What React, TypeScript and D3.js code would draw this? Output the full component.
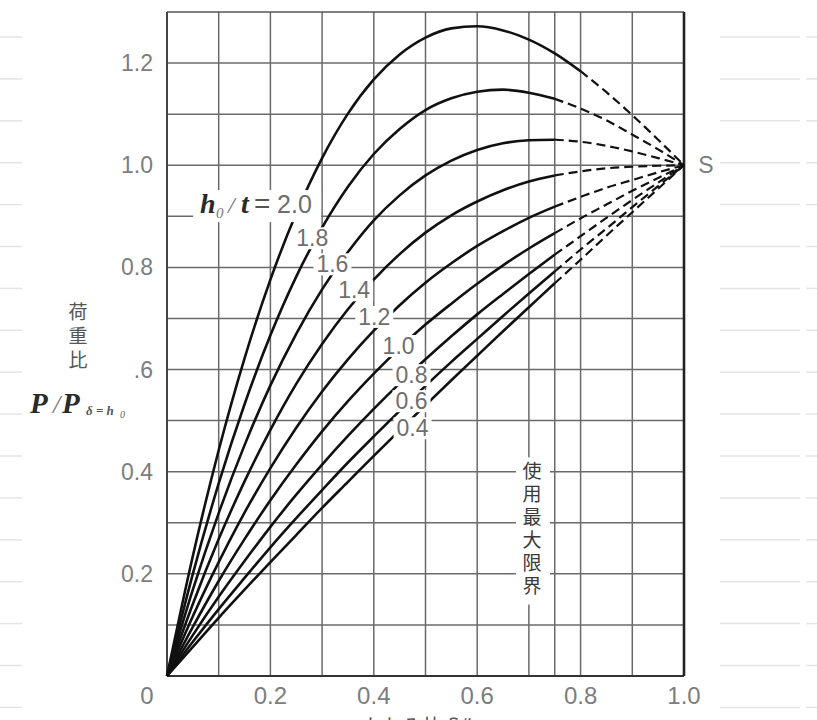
import React from 'react';
import * as d3 from 'd3';

const W = 817;
const H = 720;

// deflection ratio δ/h0 (x) and load ratio P/P(δ=h0) (y) for each h0/t
const deflectionRatio = [0, 0.05, 0.1, 0.15, 0.2, 0.25, 0.3, 0.35, 0.4, 0.45, 0.5, 0.55, 0.6, 0.65, 0.7, 0.75, 0.8, 0.85, 0.9, 0.95, 1.0];
const seriesNames = ['2.0', '1.8', '1.6', '1.4', '1.2', '1.0', '0.8', '0.6', '0.4'];
const load_2_0 = [0, 0.235, 0.442, 0.622, 0.776, 0.906, 1.014, 1.101, 1.168, 1.217, 1.25, 1.268, 1.272, 1.264, 1.246, 1.219, 1.184, 1.143, 1.098, 1.05, 1.0];
const load_1_8 = [0, 0.2, 0.377, 0.532, 0.667, 0.782, 0.878, 0.958, 1.022, 1.071, 1.108, 1.131, 1.144, 1.148, 1.142, 1.13, 1.111, 1.088, 1.06, 1.031, 1.0];
const load_1_6 = [0, 0.169, 0.319, 0.452, 0.569, 0.67, 0.757, 0.83, 0.892, 0.941, 0.98, 1.009, 1.03, 1.043, 1.049, 1.05, 1.046, 1.038, 1.027, 1.014, 1.0];
const load_1_4 = [0, 0.141, 0.268, 0.381, 0.482, 0.572, 0.65, 0.718, 0.776, 0.826, 0.868, 0.902, 0.929, 0.951, 0.968, 0.98, 0.988, 0.994, 0.997, 0.999, 1.0];
const load_1_2 = [0, 0.117, 0.223, 0.32, 0.407, 0.486, 0.557, 0.62, 0.676, 0.726, 0.77, 0.808, 0.842, 0.871, 0.897, 0.919, 0.938, 0.956, 0.971, 0.986, 1.0];
const load_1_0 = [0, 0.096, 0.186, 0.268, 0.344, 0.414, 0.479, 0.538, 0.592, 0.642, 0.688, 0.729, 0.768, 0.804, 0.837, 0.867, 0.896, 0.923, 0.95, 0.975, 1.0];
const load_0_8 = [0, 0.08, 0.155, 0.225, 0.292, 0.355, 0.414, 0.47, 0.523, 0.573, 0.62, 0.665, 0.708, 0.748, 0.787, 0.825, 0.861, 0.897, 0.932, 0.966, 1.0];
const load_0_6 = [0, 0.067, 0.131, 0.192, 0.252, 0.309, 0.364, 0.418, 0.469, 0.519, 0.568, 0.615, 0.66, 0.705, 0.749, 0.792, 0.835, 0.876, 0.918, 0.959, 1.0];
const load_0_4 = [0, 0.057, 0.114, 0.169, 0.223, 0.276, 0.329, 0.38, 0.431, 0.481, 0.53, 0.579, 0.627, 0.675, 0.722, 0.769, 0.815, 0.862, 0.908, 0.954, 1.0];
const seriesValues = [load_2_0, load_1_8, load_1_6, load_1_4, load_1_2, load_1_0, load_0_8, load_0_6, load_0_4];
// beyond this deflection the curves are dashed
const dashFrom = [0.8, 0.75, 0.75, 0.75, 0.75, 0.75, 0.75, 0.75, 0.75];

// label anchor points (data coordinates, centre of label)
const labelX = [0.064, 0.281, 0.32, 0.362, 0.401, 0.448, 0.473, 0.473, 0.475];
const labelY = [0.922, 0.857, 0.806, 0.755, 0.703, 0.646, 0.589, 0.538, 0.485];

const yTicks = [0.2, 0.4, 0.6, 0.8, 1.0, 1.2];
const yTickLabels = ['0.2', '0.4', '.6', '0.8', '1.0', '1.2'];
const xTicks = [0.2, 0.4, 0.6, 0.8, 1.0];
const xTickLabels = ['0.2', '0.4', '0.6', '0.8', '1.0'];
const hGrid = [0.1, 0.2, 0.3, 0.4, 0.5, 0.6, 0.7, 0.8, 0.9, 1.0, 1.1, 1.2];
const vGrid = [0.1, 0.2, 0.3, 0.4, 0.5, 0.6, 0.7, 0.75, 0.8, 0.9];
const limitX = 0.7;
const limitText = '使用最大限界';
const yTitle = '荷重比';

const SANS = '"Liberation Sans", Arial, Helvetica, sans-serif';
const SERIF = '"Liberation Serif", "DejaVu Serif", "Times New Roman", serif';
const CJK = '"Noto Sans CJK JP", "Noto Sans CJK SC", sans-serif';

export default function App() {
  const x = d3.scaleLinear().domain([0, 1]).range([167, 684]);
  const y = d3.scaleLinear().domain([0, 1.3]).range([676, 12]);

  const line = d3
    .line<[number, number]>()
    .x((d) => x(d[0]))
    .y((d) => y(d[1]))
    .curve(d3.curveMonotoneX);

  const sheetYs = d3.range(17).map((i) => 37 + i * 41.9);

  const curves = seriesValues.map((vals, i) => {
    const pts: [number, number][] = deflectionRatio.map((dx, j) => [dx, vals[j]]);
    const solid = pts.filter((p) => p[0] <= dashFrom[i] + 1e-9);
    const dashed = pts.filter((p) => p[0] >= dashFrom[i] - 1e-9);
    return { solid: line(solid) || '', dashed: line(dashed) || '' };
  });

  const gridColor = '#6a6a6a';
  const textGray = '#6e6e6e';

  return (
    <svg
      width={W}
      height={H}
      viewBox={`0 0 ${W} ${H}`}
      style={{ position: 'absolute', left: 0, top: 0, background: '#fff' }}
    >
      <rect x={0} y={0} width={W} height={H} fill="#fff" />
      {/* faint spreadsheet background */}
      {sheetYs.map((sy, i) => (
        <g key={'sh' + i} stroke="#e4e4e4" strokeWidth={1.5}>
          <line x1={0} x2={22} y1={sy} y2={sy} />
          <line x1={720} x2={800} y1={sy} y2={sy} />
          <line x1={806} x2={817} y1={sy} y2={sy} />
        </g>
      ))}

      {/* grid */}
      {hGrid.map((v) => (
        <line key={'h' + v} x1={x(0)} x2={x(1)} y1={y(v)} y2={y(v)} stroke={gridColor} strokeWidth={1.5} />
      ))}
      {vGrid.map((v) => (
        <line key={'v' + v} x1={x(v)} x2={x(v)} y1={y(0)} y2={y(1.3)} stroke={gridColor} strokeWidth={1.5} />
      ))}
      {/* frame */}
      <line x1={x(0)} x2={x(1)} y1={y(1.3)} y2={y(1.3)} stroke="#555" strokeWidth={1.6} />
      <line x1={x(0)} x2={x(1)} y1={y(0)} y2={y(0)} stroke="#333" strokeWidth={2} />
      <line x1={x(0)} x2={x(0)} y1={y(0)} y2={y(1.3)} stroke="#444" strokeWidth={2} />
      <line x1={x(1)} x2={x(1)} y1={y(0)} y2={y(1.3)} stroke="#222" strokeWidth={2.6} />

      {/* curves */}
      {curves.map((c, i) => (
        <g key={'c' + i} fill="none" stroke="#111" strokeWidth={2.6} strokeLinecap="butt">
          <path d={c.solid} />
          <path d={c.dashed} strokeDasharray="9 5" strokeWidth={2.2} />
        </g>
      ))}

      {/* curve labels */}
      {seriesNames.map((name, i) => {
        const cx = x(labelX[i]);
        const cy = y(labelY[i]);
        if (i === 0) {
          return (
            <g key={'l' + i}>
              <rect x={cx - 7} y={cy - 15} width={128} height={32} fill="#fff" />
              <text x={cx} y={cy + 8} fontFamily={SERIF} fontWeight="bold" fontStyle="italic" fontSize={28} fill="#2a2a2a">h</text>
              <text x={cx + 16} y={cy + 13} fontFamily={SERIF} fontStyle="italic" fontSize={15} fill="#777">0</text>
              <text x={cx + 28} y={cy + 8} fontFamily={SERIF} fontStyle="italic" fontSize={24} fill="#777">/</text>
              <text x={cx + 41} y={cy + 8} fontFamily={SERIF} fontWeight="bold" fontStyle="italic" fontSize={28} fill="#2a2a2a">t</text>
              <text x={cx + 54} y={cy + 8} fontFamily={SANS} fontSize={28} fill="#555">=</text>
              <text x={cx + 77} y={cy + 8} fontFamily={SANS} fontSize={25} fill={textGray}>{name}</text>
            </g>
          );
        }
        const w = 38;
        return (
          <g key={'l' + i}>
            <rect x={cx - w / 2} y={cy - 11} width={w} height={22} fill="#fff" />
            <text x={cx} y={cy + 8} textAnchor="middle" fontFamily={SANS} fontSize={23} fill={textGray}>
              {name}
            </text>
          </g>
        );
      })}

      {/* usage limit text (vertical) */}
      <rect x={x(limitX) - 13} y={y(0.428)} width={34} height={y(0.14) - y(0.428)} fill="#fff" />
      <text
        x={x(limitX) + 3}
        y={y(0.4) - 10}
        fontFamily={CJK}
        fontSize={19}
        fill="#3a3a3a"
        letterSpacing={4}
        style={{ writingMode: 'vertical-rl', textOrientation: 'upright' } as React.CSSProperties}
      >
        {limitText}
      </text>

      {/* y tick labels */}
      {yTicks.map((v, i) => (
        <text key={'yt' + v} x={x(0) - 14} y={y(v) + 8} textAnchor="end" fontFamily={SANS} fontSize={23} fill="#7d7d7d">
          {yTickLabels[i]}
        </text>
      ))}
      {/* x tick labels */}
      {xTicks.map((v, i) => (
        <text key={'xt' + v} x={x(v)} y={y(0) + 28} textAnchor="middle" fontFamily={SANS} fontSize={24} fill="#7d7d7d">
          {xTickLabels[i]}
        </text>
      ))}
      <text x={x(0) - 20} y={y(0) + 28} textAnchor="middle" fontFamily={SANS} fontSize={24} fill="#7d7d7d">0</text>
      <text x={x(1) + 22} y={y(1.0) + 8} textAnchor="middle" fontFamily={SANS} fontSize={23} fill="#7d7d7d">S</text>

      {/* y title */}
      <text
        x={78}
        y={302}
        fontFamily={CJK}
        fontSize={19}
        fill="#555"
        letterSpacing={5}
        style={{ writingMode: 'vertical-rl', textOrientation: 'upright' } as React.CSSProperties}
      >
        {yTitle}
      </text>
      <text x={30} y={413} fontFamily={SERIF} fontWeight="bold" fontStyle="italic" fontSize={29} fill="#2a2a2a">P</text>
      <text x={53} y={413} fontFamily={SERIF} fontStyle="italic" fontSize={26} fill="#777">/</text>
      <text x={62} y={413} fontFamily={SERIF} fontWeight="bold" fontStyle="italic" fontSize={29} fill="#2a2a2a">P</text>
      <text x={86} y={415} fontFamily={SERIF} fontWeight="bold" fontStyle="italic" fontSize={13} fill="#555">δ = h</text>
      <text x={120} y={418} fontFamily={SERIF} fontStyle="italic" fontSize={10} fill="#666">0</text>

      {/* x title (cut off at bottom edge, as in the reference) */}
      <text x={425} y={734} textAnchor="middle" fontFamily={CJK} fontSize={20} fill="#555">たわみ比 δ/h₀</text>
    </svg>
  );
}
